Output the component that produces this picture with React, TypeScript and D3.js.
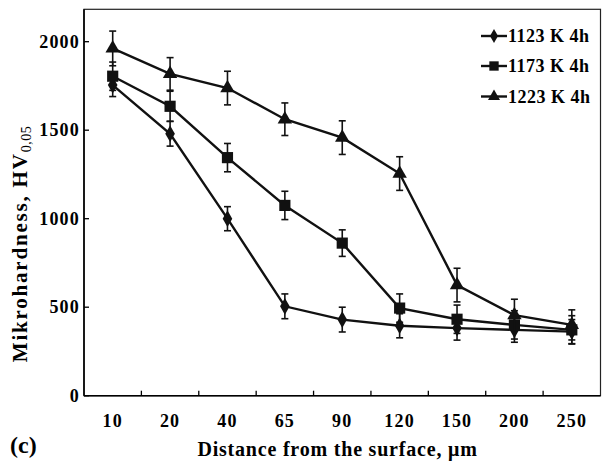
import React, { useEffect, useRef } from 'react';
import * as d3 from 'd3';

const distances = ['10', '20', '40', '65', '90', '120', '150', '200', '250'];
const seriesNames = ['1123 K 4h', '1173 K 4h', '1223 K 4h'];
const hv1123 = [1755, 1480, 1000, 505, 430, 395, 382, 372, 362];
const hv1173 = [1805, 1635, 1345, 1075, 862, 495, 432, 400, 372];
const hv1223 = [1962, 1818, 1738, 1562, 1458, 1255, 625, 455, 400];
const err1123 = [65, 70, 68, 70, 70, 68, 68, 70, 68];
const err1173 = [80, 85, 80, 80, 75, 80, 80, 80, 80];
const err1223 = [98, 92, 95, 92, 95, 95, 95, 90, 85];
const yTicks = [0, 500, 1000, 1500, 2000];

const FONT = '"Liberation Serif", "Times New Roman", serif';

const App = () => {
  const ref = useRef<SVGSVGElement>(null);

  useEffect(() => {
    const svg = d3.select(ref.current);
    svg.selectAll('*').remove();

    const left = 84, right = 600.5, top = 9.3, bottom = 395.7;

    const x = d3.scaleBand().domain(distances).range([left, right]).padding(0);
    const y = d3.scaleLinear().domain([0, 2183]).range([bottom, top]);
    const cx = (d: string) => (x(d) as number) + x.bandwidth() / 2;

    const g = svg.append('g');

    // frame
    g.append('rect')
      .attr('x', left).attr('y', top)
      .attr('width', right - left).attr('height', bottom - top)
      .attr('fill', 'none').attr('stroke', '#222').attr('stroke-width', 1.2);
    g.append('line').attr('x1', left).attr('x2', left).attr('y1', top).attr('y2', bottom)
      .attr('stroke', '#000').attr('stroke-width', 1.6);
    g.append('line').attr('x1', left).attr('x2', right).attr('y1', bottom).attr('y2', bottom)
      .attr('stroke', '#000').attr('stroke-width', 1.6);

    // y ticks (inward) + labels
    yTicks.forEach((t) => {
      g.append('line').attr('x1', left).attr('x2', left + 5)
        .attr('y1', y(t)).attr('y2', y(t)).attr('stroke', '#000').attr('stroke-width', 1.3);
      g.append('text').attr('x', 80).attr('y', y(t)).attr('dy', '0.35em')
        .attr('text-anchor', 'end').attr('font-family', FONT).attr('font-weight', 'bold')
        .attr('font-size', 18).attr('letter-spacing', 1.2).text(t);
    });

    // x ticks at band boundaries (inward)
    distances.slice(1).forEach((d) => {
      const xx = x(d) as number;
      g.append('line').attr('x1', xx).attr('x2', xx).attr('y1', bottom).attr('y2', bottom - 5)
        .attr('stroke', '#000').attr('stroke-width', 1.3);
    });
    distances.forEach((d) => {
      g.append('text').attr('x', cx(d)).attr('y', 426.5).attr('text-anchor', 'middle')
        .attr('font-family', FONT).attr('font-weight', 'bold').attr('font-size', 18)
        .attr('letter-spacing', 1.2).text(d);
    });

    // axis titles
    g.append('text').attr('x', 337.5).attr('y', 456).attr('text-anchor', 'middle')
      .attr('font-family', FONT).attr('font-weight', 'bold').attr('font-size', 20)
      .attr('letter-spacing', 0.8)
      .text('Distance from the surface, μm');
    g.append('text').attr('x', 10).attr('y', 453)
      .attr('font-family', FONT).attr('font-weight', 'bold').attr('font-size', 24).text('(c)');

    const yt = g.append('text')
      .attr('transform', 'translate(27,244) rotate(-90)')
      .attr('text-anchor', 'middle')
      .attr('font-family', FONT).attr('font-weight', 'bold').attr('font-size', 21)
      .attr('letter-spacing', 1.8);
    yt.append('tspan').text('Mikrohardness, HV');
    yt.append('tspan').attr('dy', 4).attr('font-size', 14).attr('font-weight', 'normal')
      .attr('letter-spacing', 0.5).text('0,05');

    const series = [
      { name: seriesNames[0], v: hv1123, e: err1123, sym: d3.symbolDiamond, size: 80 },
      { name: seriesNames[1], v: hv1173, e: err1173, sym: d3.symbolSquare, size: 125 },
      { name: seriesNames[2], v: hv1223, e: err1223, sym: d3.symbolTriangle, size: 90 },
    ];

    const line = d3.line<number>().x((_, i) => cx(distances[i])).y((v) => y(v));

    series.forEach((s) => {
      // error bars
      s.v.forEach((v, i) => {
        const px = cx(distances[i]);
        const y0 = y(v - s.e[i]), y1 = y(v + s.e[i]);
        g.append('line').attr('x1', px).attr('x2', px).attr('y1', y0).attr('y2', y1)
          .attr('stroke', '#111').attr('stroke-width', 1.6);
        [y0, y1].forEach((yy) => {
          g.append('line').attr('x1', px - 3.5).attr('x2', px + 3.5).attr('y1', yy).attr('y2', yy)
            .attr('stroke', '#111').attr('stroke-width', 1.6);
        });
      });
      g.append('path').datum(s.v).attr('d', line).attr('fill', 'none')
        .attr('stroke', '#111').attr('stroke-width', 2.4);
      const sym = d3.symbol().type(s.sym).size(s.size);
      s.v.forEach((v, i) => {
        g.append('path').attr('d', sym() as string)
          .attr('transform', `translate(${cx(distances[i])},${y(v)})`).attr('fill', '#111');
      });
    });

    // legend
    const legY = [36, 66, 96.5];
    series.forEach((s, i) => {
      const ly = legY[i];
      g.append('line').attr('x1', 481).attr('x2', 507).attr('y1', ly).attr('y2', ly)
        .attr('stroke', '#111').attr('stroke-width', 2.4);
      g.append('path').attr('d', d3.symbol().type(s.sym).size(s.size * 0.7)() as string)
        .attr('transform', `translate(494,${ly})`).attr('fill', '#111');
      g.append('text').attr('x', 508).attr('y', ly).attr('dy', '0.35em')
        .attr('font-family', FONT).attr('font-weight', 'bold').attr('font-size', 18)
        .attr('letter-spacing', 0.5).text(s.name);
    });
  }, []);

  return (
    <svg ref={ref} width={607} height={461}
      style={{ position: 'absolute', left: 0, top: 0, background: '#fff' }} />
  );
};

export default App;
